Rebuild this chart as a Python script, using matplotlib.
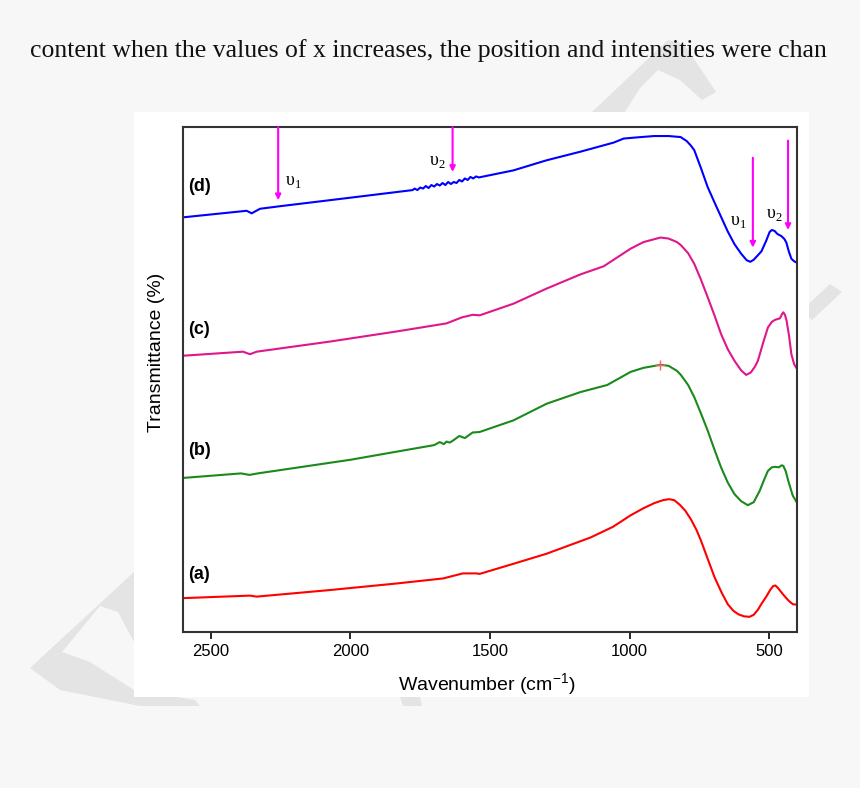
import matplotlib.pyplot as plt
from matplotlib.patches import Rectangle, Polygon

plt.rcParams['font.family'] = ['Liberation Sans', 'DejaVu Sans']
plt.rcParams['mathtext.fontset'] = 'custom'
plt.rcParams['mathtext.rm'] = 'Liberation Serif'
plt.rcParams['mathtext.sf'] = 'Liberation Sans'

# FTIR spectra, offset for display (arbitrary transmittance units)
wn_a = [2600, 2360, 2336, 2074, 1835, 1668, 1597, 1549, 1537, 1416, 1297, 1140,
        1060, 996, 950, 912, 880, 858, 840, 820, 800, 780, 760, 744, 720, 695,
        670, 648, 628, 610, 590, 570, 555, 540, 528, 510, 495, 485, 477, 468,
        455, 443, 430, 415, 400]
t_a = [6.7, 7.2, 7.0, 8.3, 9.6, 10.6, 11.6, 11.6, 11.5, 13.5, 15.5, 18.7,
       20.8, 23.1, 24.5, 25.5, 26.1, 26.3, 26.1, 25.2, 24.0, 22.3, 20.2, 18.1, 14.5, 10.8,
       7.8, 5.5, 4.2, 3.5, 3.1, 3.0, 3.4, 4.4, 5.5, 7.0, 8.4, 9.1, 9.2, 8.7,
       7.8, 7.0, 6.2, 5.5, 5.4]

wn_b = [2600, 2392, 2362, 2332, 2000, 1835, 1700, 1680, 1665, 1656, 1644, 1630,
        1610, 1590, 1562, 1537, 1416, 1297, 1176, 1080, 996, 950, 889, 860, 830,
        816, 790, 768, 745, 720, 695, 672, 648, 624, 600, 576, 555, 534, 515,
        504, 490, 479, 465, 455, 449, 440, 431, 415, 400]
t_b = [30.5, 31.4, 31.1, 31.4, 34.1, 35.7, 37.0, 37.6, 37.2, 37.7, 37.5, 38.0,
       38.8, 38.4, 39.5, 39.6, 41.9, 45.2, 47.5, 48.9, 51.5, 52.3, 52.9, 52.7, 51.7,
       50.9, 48.9, 46.5, 43.4, 39.9, 36.0, 32.6, 29.6, 27.3, 25.9, 25.1, 25.7, 27.9, 30.5,
       31.9, 32.6, 32.7, 32.6, 33.0, 32.9, 31.8, 29.9, 27.0, 25.6]

wn_c = [2600, 2385, 2360, 2336, 2074, 1835, 1656, 1600, 1562, 1537, 1416, 1297,
        1176, 1093, 996, 950, 889, 860, 830, 816, 790, 768, 745, 720, 695, 672,
        648, 624, 600, 582, 565, 550, 540, 520, 504, 490, 479, 461, 453, 449,
        443, 437, 428, 420, 410, 400]
t_c = [54.7, 55.5, 55.0, 55.5, 57.5, 59.5, 61.1, 62.3, 62.8, 62.7, 65.0, 68.0,
       70.8, 72.4, 75.9, 77.2, 78.1, 77.9, 77.2, 76.6, 75.0, 72.9, 69.9, 66.3, 62.6, 59.0,
       56.0, 53.7, 51.8, 50.9, 51.4, 52.6, 53.7, 57.5, 60.3, 61.4, 61.8, 62.1, 63.0, 63.3,
       62.8, 61.6, 58.5, 55.0, 53.0, 52.1]

wn_d = [2600, 2372, 2354, 2324, 2253, 2014, 1777, 1770, 1760, 1750, 1740, 1730,
        1720, 1710, 1700, 1690, 1680, 1670, 1660, 1650, 1640, 1630, 1620, 1610,
        1600, 1590, 1580, 1570, 1560, 1550, 1540, 1416, 1297, 1176, 1057, 1021,
        980, 912, 860, 817, 795, 780, 768, 745, 720, 695, 672, 648, 624, 600,
        580, 567, 555, 540, 527, 510, 498, 490, 480, 470, 456, 445, 438, 430,
        420, 410, 400]
t_d = [82.1, 83.4, 82.9, 83.8, 84.3, 85.9, 87.5, 87.8, 87.5, 88.0, 87.8, 88.3,
       87.9, 88.5, 88.2, 88.7, 88.4, 88.9, 88.5, 89.1, 88.7, 89.1, 88.9, 89.5,
       89.2, 89.8, 89.5, 90.1, 89.8, 90.2, 90.0, 91.4, 93.4, 95.1, 96.9, 97.7,
       97.9, 98.2, 98.2, 98.0, 97.2, 96.3, 95.4, 92.0, 88.1, 85.0, 82.2, 79.3, 76.8, 74.9,
       73.6, 73.3, 73.7, 74.6, 75.4, 77.5, 79.2, 79.6, 79.4, 78.8, 78.4, 77.8, 77.1, 75.5,
       73.9, 73.4, 73.1]

labels = ['(a)', '(b)', '(c)', '(d)']
label_y = [11.3, 36.0, 59.8, 88.2]
colors = ['#ff0000', '#1a8a1a', '#e0168c', '#0000ff']

# band arrows: wavenumber, start, end
arrow_wn = [2259, 1634, 558, 432]
arrow_y0 = [100, 100, 93.9, 97.3]
arrow_y1 = [85.5, 91.1, 76.1, 79.6]
nu_text = [r'$\mathrm{υ}_{1}$', r'$\mathrm{υ}_{2}$', r'$\mathrm{υ}_{1}$', r'$\mathrm{υ}_{2}$']
nu_x = [2206, 1687, 610, 481]
nu_y = [89.2, 93.1, 81.2, 82.7]

fig = plt.figure(figsize=(8.6, 7.88), dpi=100)
fig.patch.set_facecolor('#f7f7f7')

# faint watermark shapes of the page, then the white figure box
wm = '#e4e4e4'
shapes = [
    [(30, 668), (134, 572), (134, 642), (118, 612), (100, 606), (62, 652)],
    [(30, 668), (62, 652), (90, 662), (134, 690), (195, 700), (200, 706), (140, 706), (60, 690)],
    [(400, 697), (420, 697), (422, 706), (403, 706)],
    [(592, 112), (668, 40), (684, 44), (716, 92), (702, 100), (680, 80), (658, 70), (640, 88), (625, 112)],
    [(800, 312), (830, 284), (842, 292), (812, 320)],
]
for s in shapes:
    pts = [(x / 860, 1 - y / 788) for x, y in s]
    fig.add_artist(Polygon(pts, closed=True, transform=fig.transFigure,
                           facecolor=wm, edgecolor='none', zorder=-2))
fig.add_artist(Rectangle((134 / 860, 1 - 697 / 788), 675 / 860, 585 / 788,
                         transform=fig.transFigure, facecolor='white',
                         edgecolor='none', zorder=-1))

fig.text(30 / 860, 1 - 57 / 788,
         'content when the values of x increases, the position and intensities were chan',
         family='Liberation Serif', fontsize=18.5, va='baseline', ha='left', color='#111111')

ax = fig.add_axes([0.2128, 0.198, 0.7139, 0.6409])

ax.plot(wn_a, t_a, color=colors[0], lw=1.5)
ax.plot(wn_b, t_b, color=colors[1], lw=1.5)
ax.plot(wn_c, t_c, color=colors[2], lw=1.5)
ax.plot(wn_d, t_d, color=colors[3], lw=1.5)
ax.plot(889, 52.9, marker='+', color='#ff6060', ms=7, mew=1)

for lab, y in zip(labels, label_y):
    ax.text(2580, y, lab, fontsize=13, fontweight='bold', ha='left', va='center')

for x, y0, y1 in zip(arrow_wn, arrow_y0, arrow_y1):
    ax.annotate('', xy=(x, y1), xytext=(x, y0),
                arrowprops=dict(arrowstyle='-|>', color='#ff00ff', lw=1.5,
                                mutation_scale=8, shrinkA=0, shrinkB=0))

for t, x, y in zip(nu_text, nu_x, nu_y):
    ax.text(x, y, t, fontsize=13, ha='center', va='center')

ax.set_xlim(2600, 400)
ax.set_ylim(0, 100)
ax.set_yticks([])
ax.set_xticks([2500, 2000, 1500, 1000, 500])
ax.tick_params(axis='x', direction='out', length=5, width=1.2, labelsize=12, pad=4)
for sp in ax.spines.values():
    sp.set_color('#333333')
    sp.set_linewidth(1.5)

ax.set_xlabel('Wavenumber (cm$^{\\mathsf{-1}}$)', fontsize=14)
ax.xaxis.set_label_coords(0.495, -0.079)
ax.set_ylabel('Transmittance (%)', fontsize=14)
ax.yaxis.set_label_coords(-0.03, 0.554)

fig.savefig('out.png', dpi=100)
